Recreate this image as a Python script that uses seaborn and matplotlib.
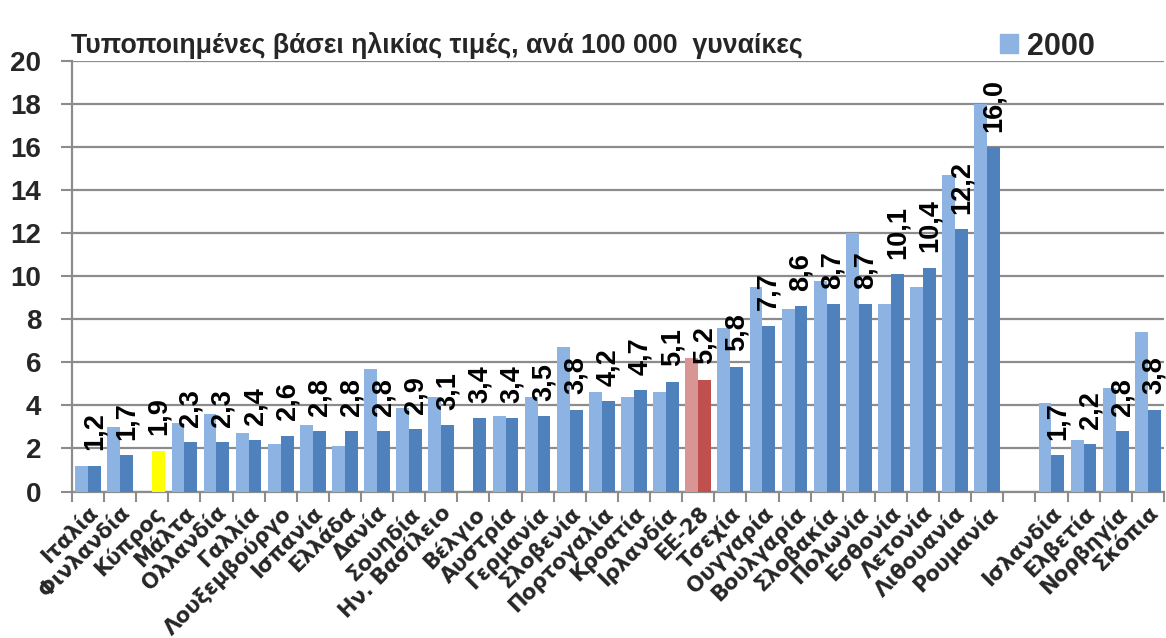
import numpy as np
import pandas as pd
import seaborn as sns
import matplotlib.pyplot as plt
from matplotlib.patches import Patch

# Data

countries = [
    "Ιταλία", "Φινλανδία", "Κύπρος", "Μάλτα", "Ολλανδία", "Γαλλία",
    "Λουξεμβούργο", "Ισπανία", "Ελλάδα", "Δανία", "Σουηδία", "Ην. Βασίλειο",
    "Βέλγιο", "Αυστρία", "Γερμανία", "Σλοβενία", "Πορτογαλία", "Κροατία",
    "Ιρλανδία", "ΕΕ-28", "Τσεχία", "Ουγγαρία", "Βουλγαρία", "Σλοβακία",
    "Πολωνία", "Εσθονία", "Λετονία", "Λιθουανία", "Ρουμανία", " ",
    "Ισλανδία", "Ελβετία", "Νορβηγία", "Σκόπια",
]
rate_2000 = [
    1.2, 3.0, np.nan, 3.2, 3.6, 2.7,
    2.2, 3.1, 2.1, 5.7, 3.9, 4.4,
    np.nan, 3.5, 4.4, 6.7, 4.6, 4.4,
    4.6, 6.2, 7.6, 9.5, 8.5, 9.8,
    12.0, 8.7, 9.5, 14.7, 18.0, np.nan,
    4.1, 2.4, 4.8, 7.4,
]
rate_2012 = [
    1.2, 1.7, 1.9, 2.3, 2.3, 2.4,
    2.6, 2.8, 2.8, 2.8, 2.9, 3.1,
    3.4, 3.4, 3.5, 3.8, 4.2, 4.7,
    5.1, 5.2, 5.8, 7.7, 8.6, 8.7,
    8.7, 10.1, 10.4, 12.2, 16.0, np.nan,
    1.7, 2.2, 2.8, 3.8,
]
years = ["2000", "2012"]

title = "Τυποποιημένες βάσει ηλικίας τιμές, ανά 100 000  γυναίκες"

# Colours

light_blue = "#8db3e2"
dark_blue = "#4f81bd"
light_red = "#d99594"
dark_red = "#c0504d"
yellow = "#ffff00"
grid_grey = "#8c8c8c"

n = len(countries)
df = pd.DataFrame({
    "country": countries * 2,
    "year": [years[0]] * n + [years[1]] * n,
    "rate": rate_2000 + rate_2012,
})

sns.set_theme(style="white")
plt.rcParams["font.family"] = ["Liberation Sans", "DejaVu Sans"]

fig = plt.figure(figsize=(11.66, 6.38), dpi=100)
ax = fig.add_axes([0.0617, 0.2296, 0.9365, 0.6748])

sns.barplot(data=df, x="country", y="rate", hue="year", order=countries,
            hue_order=years, palette=[light_blue, dark_blue], width=0.8,
            saturation=1, linewidth=0, errorbar=None, legend=False, ax=ax,
            zorder=3)

# special colours for Cyprus and EU-28
for k, cont in enumerate(ax.containers):
    for bar in cont:
        idx = int(round(bar.get_x() + bar.get_width() / 2))
        if countries[idx] == "ΕΕ-28":
            bar.set_facecolor(light_red if k == 0 else dark_red)
        elif countries[idx] == "Κύπρος" and k == 1:
            bar.set_facecolor(yellow)

# value labels on the second series
for bar in ax.containers[1]:
    h = bar.get_height()
    if not np.isfinite(h):
        continue
    ax.annotate(f"{h:.1f}".replace(".", ","),
                (bar.get_x() + bar.get_width() / 2, h),
                xytext=(0, 11), textcoords="offset points",
                rotation=90, ha="center", va="bottom",
                fontsize=19.5, fontweight="bold", color="black", zorder=5)

ax.set_xlim(-0.5, n - 0.5)
ax.set_ylim(0, 20)
ax.set_yticks(np.arange(0, 21, 2))
ax.set_yticklabels([str(v) for v in range(0, 21, 2)], fontsize=20,
                   fontweight="bold")
ax.set_xticks(range(n))
ax.set_xticklabels(countries, rotation=45, ha="right",
                   rotation_mode="anchor", fontsize=15, fontweight="bold",
                   family=["DejaVu Sans"])
ax.set_xticks(np.arange(-0.5, n, 1), minor=True)
ax.tick_params(axis="x", which="major", length=0, pad=8)
ax.tick_params(axis="x", which="minor", length=7, width=1.5,
               color=grid_grey, direction="out", bottom=True)
ax.tick_params(axis="y", length=8, width=1.5, color=grid_grey,
               direction="out", left=True, pad=14)
ax.set_xlabel("")
ax.set_ylabel("")

ax.yaxis.grid(True, color=grid_grey, linewidth=1.6, zorder=0)
ax.set_axisbelow(True)
for side in ["top", "right"]:
    ax.spines[side].set_visible(False)
for side in ["left", "bottom"]:
    ax.spines[side].set_color(grid_grey)
    ax.spines[side].set_linewidth(1.6)

fig.text(71 / 1166, 1 - 53 / 638, title, fontsize=19.3, fontweight="bold",
         ha="left", va="baseline")

fig.legend(handles=[Patch(color=light_blue, label="2000")],
           loc="upper left", bbox_to_anchor=(972 / 1166, 1 - 4 / 638),
           frameon=False, handlelength=0.6, handleheight=0.6,
           handletextpad=0.3, prop={"size": 22, "weight": "bold"})

fig.savefig("out.png", dpi=100)
